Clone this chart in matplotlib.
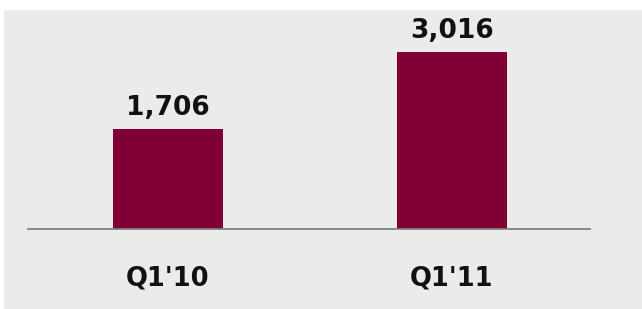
import matplotlib.pyplot as plt

# quarterly values
quarters = ["Q1'10", "Q1'11"]
values = [1706, 3016]

bar_color = '#800033'
bg_color = '#ebebeb'

fig = plt.figure(figsize=(6.42, 3.09), dpi=100)
fig.patch.set_facecolor('white')

# gray panel behind the chart
fig.patches.append(plt.Rectangle((4 / 642, 0), 1, 1 - 10 / 309,
                                 transform=fig.transFigure,
                                 facecolor=bg_color, edgecolor='none', zorder=-1))

ax = fig.add_axes([28 / 642, 80 / 309, 562 / 642, 219 / 309])
ax.set_facecolor('none')
ax.set_zorder(1)

x = range(len(quarters))
ax.bar(x, values, width=0.384, color=bar_color, zorder=2)

for xi, v in zip(x, values):
    ax.annotate(f'{v:,}', (xi, v), xytext=(0, 10), textcoords='offset points',
                ha='center', va='baseline', fontsize=19, fontweight='bold',
                color='#111111')

ax.set_xlim(-0.493, 1.486)
ax.set_ylim(0, 3732)
ax.set_xticks(list(x))
ax.set_xticklabels(quarters, fontsize=18.5, fontweight='bold', color='#111111')
ax.tick_params(axis='x', length=0, pad=26)
ax.set_yticks([])

for s in ['top', 'right', 'left']:
    ax.spines[s].set_visible(False)
ax.spines['bottom'].set_color('#808080')
ax.spines['bottom'].set_linewidth(1.3)

fig.savefig('out.png', dpi=100)
